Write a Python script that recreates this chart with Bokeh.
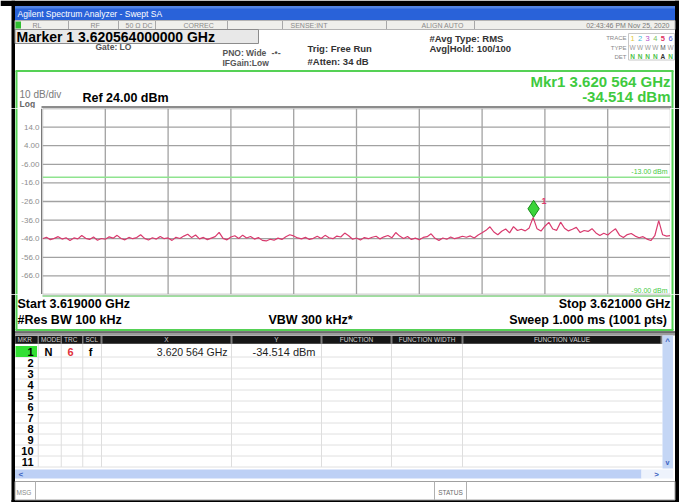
import numpy as np
from bokeh.plotting import figure
from bokeh.layouts import column, row
from bokeh.models import Range1d, Span
from bokeh.core.properties import value
from bokeh.embed import file_html
from bokeh.resources import INLINE

FONT = "Liberation Sans"

# ---------------- data ----------------
start_ghz = 3.619
stop_ghz = 3.621
ref_level_dbm = 24.0
db_per_div = 10.0
n_div = 10
limit_dbm = -13.0
limit_label = "-13.00 dBm"
display_line_label = "-90.00 dBm"
marker_ghz = 3.620564
marker_dbm = -34.514
res_bw = "100 kHz"
vbw = "300 kHz*"
sweep = "1.000 ms (1001 pts)"

y_tick_values = [14, 4, -6, -16, -26, -36, -46, -56, -66]
y_tick_labels = ["14.0", "4.00", "-6.00", "-16.0", "-26.0", "-36.0", "-46.0", "-56.0", "-66.0"]

trace_dbm = [
    -46.0, -45.2, -46.5, -45.8, -44.9, -46.2, -45.5, -47.0, -45.6, -46.1,
    -44.3, -45.8, -46.4, -45.1, -46.8, -45.9, -46.3, -45.0, -45.7, -44.2,
    -45.9, -46.6, -45.3, -46.0, -45.4, -43.9, -45.8, -46.7, -45.5, -46.2,
    -44.8, -46.0, -45.6, -46.9, -45.2, -45.9, -44.6, -43.6, -45.4, -44.0,
    -46.1, -45.3, -46.5, -45.7, -44.9, -42.6, -45.8, -46.6, -45.1, -44.4,
    -45.9, -44.1, -45.6, -44.8, -46.2, -45.4, -46.9, -47.2, -46.3, -46.8,
    -45.7, -46.4, -45.0, -43.9, -44.5, -45.6, -46.1, -45.3, -46.4, -45.8,
    -44.7, -45.9, -44.2, -45.5, -46.0, -44.6, -45.1, -43.0, -44.4, -46.3,
    -45.6, -46.7, -45.4, -46.0, -45.2, -44.7, -46.1, -45.0, -44.3, -45.5,
    -42.7, -44.6, -45.9, -44.8, -46.4, -45.7, -46.6, -45.3, -44.9, -43.4,
    -45.8, -46.9, -45.6, -46.3, -45.1, -46.0, -45.4, -44.7, -45.2, -44.5,
    -45.6, -44.0, -42.8, -41.5, -39.6, -42.4, -43.9, -42.0, -40.8, -42.9,
    -39.5, -41.6, -40.9, -41.8, -40.2, -34.514, -40.7, -41.9, -39.3, -37.2,
    -40.8, -41.5, -37.1, -40.4, -41.8, -40.9, -39.9, -42.7, -41.6, -42.1,
    -40.6, -42.9, -44.3, -43.1, -44.0, -42.2, -40.7, -44.1, -45.3, -43.8,
    -43.2, -44.6, -45.5, -44.9, -46.2, -47.0, -44.4, -36.3, -43.9, -44.6,
    -44.3,
]
trace_ghz = np.linspace(start_ghz, stop_ghz, len(trace_dbm))

table_rows = [str(k) for k in range(1, 12)]
mkr_mode, mkr_trace, mkr_scale = "N", "6", "f"
mkr_x_text = "3.620 564 GHz"
mkr_y_text = "-34.514 dBm"

# ---------------- styling ----------------
GREEN = "#55d155"
GREEN_TXT = "#3fca3f"
TRACE_C = "#d93a6e"
GRID_C = "#a2a2a2"
W = 690


def panel(w, h, xr, yr):
    f = figure(width=w, height=h, x_range=xr, y_range=yr, output_backend="svg",
               toolbar_location=None, x_axis_location=None, y_axis_location=None,
               min_border=0, outline_line_color=None, title=None)
    f.grid.visible = False
    f.background_fill_color = "white"
    f.border_fill_color = "white"
    return f


def txt(f, x, y, s, size, color="#000000", bold=False, align="left", baseline="middle"):
    f.text(x=[x], y=[y], text=[s], text_font=value(FONT), text_font_size=size,
           text_color=color, text_font_style="bold" if bold else "normal",
           text_align=align, text_baseline=baseline)


def box(f, l, r, t, b, fill, line=None, lw=1.0):
    f.quad(left=[l], right=[r], top=[t], bottom=[b], fill_color=fill,
           line_color=line, line_width=lw)


def seg(f, x0, y0, x1, y1, color, lw=1.0):
    f.segment(x0=[x0], y0=[y0], x1=[x1], y1=[y1], line_color=color, line_width=lw)


# ---------------- header (screen rows 0..108) ----------------
hd = panel(W, 108, Range1d(0, W), Range1d(108, 0))
box(hd, 0, 678.5, 0, 5.5, "black")
box(hd, 11, 14.5, 0, 108, "black")
box(hd, 674.5, 678.5, 0, 108, "black")
box(hd, 14.5, 674.5, 5.5, 20, "#2962d9")
box(hd, 14.5, 674.5, 5.5, 8, "#5284e4")
txt(hd, 17, 13.5, "Agilent Spectrum Analyzer - Swept SA", "8.5px", "white")
box(hd, 14.5, 674.5, 20, 29, "#efefeb", "#b4b4b4")
box(hd, 15, 20.5, 21, 28, "#2fbf2f")
for sx in [68, 118, 155, 227, 282, 386, 474]:
    seg(hd, sx, 20.5, sx, 28.5, "#a8a8a8")
for sx, s in [(32, "RL"), (90, "RF"), (125, "50 \u03a9"), (142, "DC"), (183, "CORREC"),
              (290, "SENSE:INT"), (421, "ALIGN AUTO")]:
    txt(hd, sx, 24.8, s, "7px", "#8a8a8a")
txt(hd, 669, 24.8, "02:43:46 PM Nov 25, 2020", "7px", "#7a7a7a", align="right")
box(hd, 14.5, 258, 29, 43, "#e8e8e8", "#8c8c8c")
txt(hd, 16, 36.5, "Marker 1 %.12f GHz" % marker_ghz, "14px", "black", bold=True)
txt(hd, 95, 46, "Gate: LO", "8.5px", "#555555", bold=True)
txt(hd, 222, 52.5, "PNO: Wide", "8.5px", "#555555", bold=True)
txt(hd, 271, 52.5, "-\u2022-", "9px", "#555555", bold=True)
txt(hd, 222, 62, "IFGain:Low", "8.5px", "#555555", bold=True)
txt(hd, 307, 48, "Trig: Free Run", "9.5px", "#333333", bold=True)
txt(hd, 307, 61, "#Atten: 34 dB", "9.5px", "#333333", bold=True)
txt(hd, 429, 37.5, "#Avg Type: RMS", "9.5px", "#333333", bold=True)
txt(hd, 429, 47.5, "Avg|Hold: 100/100", "9.5px", "#333333", bold=True)
txt(hd, 626, 37.5, "TRACE", "6px", "#888888", align="right")
txt(hd, 626, 47, "TYPE", "6px", "#888888", align="right")
txt(hd, 626, 56, "DET", "6px", "#888888", align="right")
box(hd, 628, 674, 33, 59.5, None, "#c8c8c8")
trace_cols = ["#e2c940", "#3fb8d6", "#b24fc9", "#7cc35a", "#e0305f", "#4e55d8"]
for k in range(6):
    xx = 632 + 7.6 * k
    txt(hd, xx, 37.5, str(k + 1), "7.5px", trace_cols[k], bold=(k == 4), align="center")
    txt(hd, xx, 47, "M" if k == 4 else "W", "6.5px", "#555555" if k == 4 else "#9a9a9a", align="center")
    txt(hd, xx, 56, "A" if k == 4 else "N", "6.5px", "#333333" if k == 4 else "#4cc24c", bold=True, align="center")
seg(hd, 15, 70.5, 673, 70.5, GREEN, 2)
seg(hd, 16, 70.5, 16, 108, GREEN, 2)
seg(hd, 672, 70.5, 672, 108, GREEN, 2)
txt(hd, 670, 81, "Mkr1 3.620 564 GHz", "15px", GREEN_TXT, bold=True, align="right")
txt(hd, 670, 96, "%.3f dBm" % marker_dbm, "15px", GREEN_TXT, bold=True, align="right")
txt(hd, 19, 94.3, "10 dB/div", "10px", "#7a7a7a")
txt(hd, 82, 97.5, "Ref %.2f dBm" % ref_level_dbm, "12.5px", "black", bold=True)
txt(hd, 19, 103.2, "Log", "8.5px", "#666666", bold=True, baseline="alphabetic")
box(hd, 41, 671, 105.5, 108, "#8c8c8c")

# ---------------- spectrum ----------------
spec_y = Range1d(ref_level_dbm - n_div * db_per_div, ref_level_dbm)
sp = panel(628, 186, Range1d(start_ghz, stop_ghz), spec_y)
span_ghz = stop_ghz - start_ghz
for k in range(n_div + 1):
    sp.add_layout(Span(location=start_ghz + k * span_ghz / n_div, dimension="height",
                       line_color=GRID_C, line_width=1.3, level="underlay"))
    sp.add_layout(Span(location=ref_level_dbm - k * db_per_div, dimension="width",
                       line_color=GRID_C, line_width=1.3, level="underlay"))
sp.add_layout(Span(location=limit_dbm, dimension="width", line_color="#8fe48f",
                   line_width=1.6, level="underlay"))
sp.text(x=[stop_ghz], y=[limit_dbm], text=[limit_label], x_offset=-3, y_offset=-2,
        text_font=value(FONT), text_font_size="7px", text_color=GREEN_TXT,
        text_align="right", text_baseline="bottom")
sp.text(x=[stop_ghz], y=[ref_level_dbm - n_div * db_per_div], text=[display_line_label],
        x_offset=-3, y_offset=-1, text_font=value(FONT), text_font_size="7px",
        text_color=GREEN_TXT, text_align="right", text_baseline="bottom")
sp.line(trace_ghz, trace_dbm, line_color=TRACE_C, line_width=1.2)
marker_gap_db = 4.6
sp.scatter(x=[marker_ghz], y=[marker_dbm + marker_gap_db], marker="diamond", size=17,
           fill_color="#3bd43b", line_color="#178a17", line_width=1)
sp.text(x=[marker_ghz], y=[marker_dbm], text=["1"], x_offset=8, y_offset=-16,
        text_font=value(FONT), text_font_size="9px", text_color=TRACE_C,
        text_font_style="bold", text_align="left", text_baseline="middle")

# ---------------- left strip (tick labels) ----------------
lf = panel(42, 186, Range1d(0, 42), spec_y)
lf.add_layout(Span(location=12.75, dimension="height", line_color="black", line_width=3.5))
lf.add_layout(Span(location=16, dimension="height", line_color=GREEN, line_width=2))
lf.add_layout(Span(location=41.3, dimension="height", line_color="#7a7a7a", line_width=1.6))
lf.text(x=[39] * len(y_tick_values), y=y_tick_values, text=y_tick_labels,
        text_font=value(FONT), text_font_size="8px", text_color="#8e8e8e",
        text_align="right", text_baseline="middle")

# ---------------- right strip ----------------
rt = panel(W - 670, 186, Range1d(670, W), Range1d(294, 108))
rt.add_layout(Span(location=672, dimension="height", line_color=GREEN, line_width=2))
rt.add_layout(Span(location=676.5, dimension="height", line_color="black", line_width=4))

# ---------------- footer (screen rows 294..502) ----------------
ft = panel(W, 208, Range1d(0, W), Range1d(502, 294))
box(ft, 11, 14.5, 294, 502, "black")
box(ft, 674.5, 678.5, 294, 502, "black")
box(ft, 11, 678.5, 499.5, 502, "black")
seg(ft, 16, 294, 16, 329.5, GREEN, 2)
seg(ft, 672, 294, 672, 329.5, GREEN, 2)
seg(ft, 15, 329.5, 673, 329.5, GREEN, 2)
seg(ft, 42, 294.4, 670, 294.4, "#8a8a8a", 1)
seg(ft, 42, 295.6, 670, 295.6, "#7ed67e", 1.4)
txt(ft, 17, 303.5, "Start %.6f GHz" % start_ghz, "12.5px", "black", bold=True)
txt(ft, 670, 303.5, "Stop %.6f GHz" % stop_ghz, "12.5px", "black", bold=True, align="right")
txt(ft, 17, 319.5, "#Res BW " + res_bw, "12.5px", "black", bold=True)
txt(ft, 268, 319.5, "VBW " + vbw, "12.5px", "black", bold=True)
txt(ft, 670, 319.5, "Sweep  " + sweep, "12.5px", "black", bold=True, align="right")

box(ft, 14.5, 674.5, 330.8, 335, "#9c9c9c")
seg(ft, 14.5, 331.5, 674.5, 331.5, "#3a3a3a", 1)
box(ft, 14.5, 662, 335, 468, "white")
box(ft, 14.5, 662, 335, 343.5, "#7c7c7c")
header_cells = [("MKR", 15, 37, "left"), ("MODE", 38.5, 60, "left"), ("TRC", 61.5, 81.5, "left"),
                ("SCL", 83, 100, "left"), ("X", 102, 230, "center"), ("Y", 232, 320, "center"),
                ("FUNCTION", 322, 390, "center"), ("FUNCTION WIDTH", 392, 461, "center"),
                ("FUNCTION VALUE", 463, 660, "center")]
for name, l, r, al in header_cells:
    box(ft, l, r, 335.5, 343, "#161616")
    tx = l + 2 if al == "left" else (l + r) / 2
    txt(ft, tx, 339.4, name, "6.5px", "#d2d2d2", align=al)
row_top = 345.5
row_h = 11
for k in range(len(table_rows)):
    yb = row_top + (k + 1) * row_h
    seg(ft, 14.5, yb, 662, yb, "#e0e0e0", 1)
for sx in [37.75, 60.75, 82.25, 101, 231, 321, 391, 462]:
    seg(ft, sx, 343.5, sx, row_top + len(table_rows) * row_h, "#dedede", 1)
box(ft, 15, 36.5, row_top, row_top + row_h, "#33e033")
for k, s in enumerate(table_rows):
    txt(ft, 33, row_top + row_h * (k + 0.5) + 0.3, s, "11px", "black", bold=True, align="right")
yc = row_top + row_h * 0.5 + 0.3
txt(ft, 48, yc, mkr_mode, "11px", "black", bold=True, align="center")
txt(ft, 70, yc, mkr_trace, "11px", "#e0303a", bold=True, align="center")
txt(ft, 90, yc, mkr_scale, "11px", "black", bold=True, align="center")
txt(ft, 227, yc, mkr_x_text, "10.5px", "#1e1e1e", align="right")
txt(ft, 315, yc, mkr_y_text, "11px", "#1e1e1e", align="right")

box(ft, 662, 672.5, 335, 468, "#c4d6f5")
txt(ft, 667, 340.5, "^", "8px", "#3a5fc0", bold=True, align="center")
txt(ft, 667, 462, "v", "7px", "#3a5fc0", bold=True, align="center")
box(ft, 14.5, 641, 469, 478, "#bdd0f5")
box(ft, 641, 672.5, 469, 478, "#eef3fc")
txt(ft, 18, 473.5, "<", "8px", "#3a5fc0", bold=True)
txt(ft, 656, 473.5, ">", "8px", "#3a5fc0", bold=True, align="center")
box(ft, 14.5, 674.5, 481, 499.5, "white", "#a0a0a0")
seg(ft, 35, 481, 35, 499.5, "#b0b0b0", 1)
seg(ft, 434, 481, 434, 499.5, "#b0b0b0", 1)
seg(ft, 466, 481, 466, 499.5, "#b0b0b0", 1)
txt(ft, 16, 491.5, "MSG", "6.5px", "#8a8a8a")
txt(ft, 450, 491.5, "STATUS", "6.5px", "#6a6a6a", align="center")

layout = column(hd, row(lf, sp, rt, spacing=0), ft, spacing=0)

with open("out.html", "w") as fh:
    fh.write(file_html(layout, INLINE))
